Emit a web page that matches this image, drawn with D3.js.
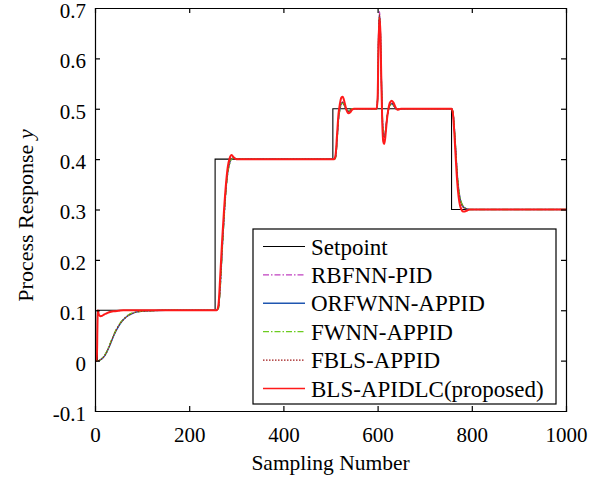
<!DOCTYPE html>
<html>
<head>
<meta charset="utf-8">
<script src="https://cdn.jsdelivr.net/npm/d3@7"></script>
<style>
  html, body { margin: 0; padding: 0; background: #fff; }
  svg { display: block; }
  text { font-family: "Liberation Serif", "Times New Roman", serif; fill: #000; }
</style>
</head>
<body>
<svg id="chart" width="605" height="484"></svg>
<script>
// ---------------- data ----------------
const xTicks = [0, 200, 400, 600, 800, 1000];
const yTicks = [-0.1, 0, 0.1, 0.2, 0.3, 0.4, 0.5, 0.6, 0.7];
const yTickLabels = ["-0.1", "0", "0.1", "0.2", "0.3", "0.4", "0.5", "0.6", "0.7"];

const setpointX = [0, 5, 255, 505, 757, 1000];
const setpointY = [0, 0.1, 0.4, 0.5, 0.3, 0.3];

const sampleX = [
  0, 4, 5, 6, 8, 10, 12, 15, 20, 25, 30, 40, 50, 60, 70, 80, 90, 100, 120, 150, 200, 255,
  258, 262, 266, 270, 274, 278, 282, 286, 290, 295, 300, 320, 400, 505,
  508, 511, 514, 517, 520, 523, 526, 530, 534, 538, 542, 546, 550, 560, 580, 598,
  600, 602, 604, 606, 608, 610, 612, 614, 616, 618, 620, 623, 626, 630, 634, 638, 642, 646, 650, 660, 700, 757,
  760, 763, 766, 769, 772, 775, 778, 781, 785, 790, 795, 800, 850, 1000
];

const rbfnnPid = [
  0, 0, 0, 0, 0, 0.001, 0.002, 0.004, 0.010, 0.018, 0.028, 0.051, 0.069, 0.082, 0.090, 0.094, 0.097, 0.098, 0.099, 0.1, 0.1, 0.1,
  0.1, 0.104, 0.148, 0.218, 0.283, 0.338, 0.374, 0.392, 0.401, 0.403, 0.401, 0.4, 0.4, 0.4,
  0.4, 0.404, 0.438, 0.478, 0.499, 0.510, 0.513, 0.507, 0.499, 0.495, 0.497, 0.5, 0.5, 0.5, 0.5, 0.5,
  0.52, 0.645, 0.693, 0.655, 0.565, 0.488, 0.452, 0.446, 0.451, 0.466, 0.483, 0.498, 0.507, 0.511, 0.507, 0.501, 0.499, 0.5, 0.5, 0.5, 0.5, 0.5,
  0.493, 0.462, 0.417, 0.372, 0.341, 0.323, 0.313, 0.307, 0.303, 0.301, 0.3, 0.3, 0.3, 0.3
];

const orfwnnAppid = [
  0, 0, 0, 0, 0, 0.001, 0.002, 0.004, 0.009, 0.017, 0.027, 0.050, 0.068, 0.081, 0.089, 0.094, 0.097, 0.098, 0.099, 0.1, 0.1, 0.1,
  0.1, 0.105, 0.150, 0.220, 0.285, 0.340, 0.375, 0.393, 0.401, 0.402, 0.401, 0.4, 0.4, 0.4,
  0.4, 0.405, 0.440, 0.480, 0.500, 0.510, 0.512, 0.506, 0.498, 0.495, 0.497, 0.5, 0.5, 0.5, 0.5, 0.5,
  0.52, 0.64, 0.685, 0.65, 0.56, 0.485, 0.45, 0.445, 0.45, 0.465, 0.482, 0.498, 0.507, 0.51, 0.507, 0.501, 0.499, 0.5, 0.5, 0.5, 0.5, 0.5,
  0.492, 0.46, 0.415, 0.37, 0.34, 0.322, 0.312, 0.306, 0.303, 0.301, 0.3, 0.3, 0.3, 0.3
];

const fwnnAppid = [
  0, 0, 0, 0, 0, 0.001, 0.002, 0.005, 0.010, 0.018, 0.029, 0.052, 0.070, 0.082, 0.090, 0.095, 0.097, 0.098, 0.099, 0.1, 0.1, 0.1,
  0.1, 0.103, 0.145, 0.215, 0.280, 0.336, 0.372, 0.391, 0.400, 0.402, 0.401, 0.4, 0.4, 0.4,
  0.4, 0.403, 0.436, 0.476, 0.498, 0.508, 0.511, 0.506, 0.499, 0.496, 0.498, 0.5, 0.5, 0.5, 0.5, 0.5,
  0.52, 0.635, 0.682, 0.648, 0.562, 0.49, 0.455, 0.448, 0.452, 0.466, 0.483, 0.498, 0.506, 0.509, 0.506, 0.501, 0.499, 0.5, 0.5, 0.5, 0.5, 0.5,
  0.494, 0.463, 0.419, 0.374, 0.343, 0.324, 0.314, 0.308, 0.304, 0.301, 0.3, 0.3, 0.3, 0.3
];

const fblsAppid = [
  0, 0, 0, 0, 0, 0.001, 0.002, 0.004, 0.009, 0.017, 0.028, 0.051, 0.069, 0.081, 0.089, 0.094, 0.097, 0.098, 0.099, 0.1, 0.1, 0.1,
  0.1, 0.105, 0.152, 0.222, 0.287, 0.342, 0.377, 0.395, 0.402, 0.402, 0.401, 0.4, 0.4, 0.4,
  0.4, 0.406, 0.442, 0.482, 0.502, 0.511, 0.513, 0.506, 0.498, 0.494, 0.497, 0.5, 0.5, 0.5, 0.5, 0.5,
  0.52, 0.64, 0.688, 0.652, 0.56, 0.483, 0.448, 0.442, 0.448, 0.464, 0.481, 0.498, 0.508, 0.511, 0.507, 0.501, 0.499, 0.5, 0.5, 0.5, 0.5, 0.5,
  0.491, 0.458, 0.413, 0.368, 0.338, 0.32, 0.311, 0.305, 0.302, 0.301, 0.3, 0.3, 0.3, 0.3
];

const blsApidlc = [
  0, 0, 0.06, 0.1, 0.092, 0.089, 0.088, 0.089, 0.092, 0.094, 0.096, 0.098, 0.099, 0.1, 0.1, 0.1, 0.1, 0.1, 0.1, 0.1, 0.1, 0.1,
  0.1, 0.11, 0.17, 0.24, 0.30, 0.35, 0.385, 0.402, 0.408, 0.403, 0.4, 0.4, 0.4, 0.4,
  0.4, 0.41, 0.45, 0.49, 0.51, 0.522, 0.524, 0.512, 0.497, 0.491, 0.493, 0.498, 0.5, 0.5, 0.5, 0.5,
  0.52, 0.63, 0.68, 0.65, 0.55, 0.47, 0.435, 0.43, 0.44, 0.46, 0.48, 0.5, 0.512, 0.516, 0.512, 0.503, 0.498, 0.499, 0.5, 0.5, 0.5, 0.5,
  0.49, 0.45, 0.4, 0.355, 0.325, 0.308, 0.3, 0.296, 0.296, 0.298, 0.3, 0.3, 0.3, 0.3
];

const seriesNames = ["Setpoint", "RBFNN-PID", "ORFWNN-APPID", "FWNN-APPID", "FBLS-APPID", "BLS-APIDLC(proposed)"];

// ---------------- drawing ----------------
const svg = d3.select("#chart");
const mLeft = 95, mRight = 566, mTop = 8, mBottom = 411;

const x = d3.scaleLinear().domain([0, 1000]).range([mLeft, mRight]);
const y = d3.scaleLinear().domain([-0.1, 0.7]).range([mBottom, mTop]);

const styles = [
  { color: "#000000", width: 1.1, dash: null },
  { color: "#c040c0", width: 1.2, dash: "6,2,1.5,2" },
  { color: "#1f56b0", width: 1.4, dash: null },
  { color: "#6ccc20", width: 1.3, dash: "6,2,1.5,2" },
  { color: "#a01818", width: 1.2, dash: "1.5,1.5" },
  { color: "#ff1a1a", width: 2, dash: null }
];

const respSeries = [rbfnnPid, orfwnnAppid, fwnnAppid, fblsAppid, blsApidlc];

const plot = svg.append("g");

// setpoint
const spLine = d3.line()
  .x((d, i) => x(setpointX[i]))
  .y(d => y(d))
  .curve(d3.curveStepAfter);
plot.append("path")
  .attr("d", spLine(setpointY))
  .attr("fill", "none")
  .attr("stroke", styles[0].color)
  .attr("stroke-width", styles[0].width);

const respLine = d3.line()
  .x((d, i) => x(sampleX[i]))
  .y(d => y(d))
  .curve(d3.curveMonotoneX);

respSeries.forEach((s, k) => {
  const st = styles[k + 1];
  plot.append("path")
    .attr("d", respLine(s))
    .attr("fill", "none")
    .attr("stroke", st.color)
    .attr("stroke-width", st.width)
    .attr("stroke-dasharray", st.dash)
    .attr("stroke-linejoin", "round");
});

// axes
const fontSize = 21;
const axB = svg.append("g").attr("transform", `translate(0,${mBottom})`)
  .call(d3.axisBottom(x).tickValues(xTicks).tickSize(-5).tickPadding(16).tickFormat(d3.format("d")));
const axT = svg.append("g").attr("transform", `translate(0,${mTop})`)
  .call(d3.axisTop(x).tickValues(xTicks).tickSize(-5).tickFormat(""));
const axL = svg.append("g").attr("transform", `translate(${mLeft},0)`)
  .call(d3.axisLeft(y).tickValues(yTicks).tickSize(-5).tickPadding(9).tickFormat((d, i) => yTickLabels[i]));
const axR = svg.append("g").attr("transform", `translate(${mRight},0)`)
  .call(d3.axisRight(y).tickValues(yTicks).tickSize(-5).tickFormat(""));

[axB, axT, axL, axR].forEach(g => {
  g.select(".domain").attr("stroke", "#000").attr("stroke-width", 1.2);
  g.selectAll(".tick line").attr("stroke", "#000").attr("stroke-width", 1.2);
  g.selectAll(".tick text")
    .attr("font-family", "'Liberation Serif', 'Times New Roman', serif")
    .attr("font-size", fontSize)
    .attr("fill", "#000");
});
axL.selectAll(".tick text").attr("dy", "0.45em");
// hide end ticks sitting on the frame
[axB, axT].forEach(g => g.selectAll(".tick line").filter(d => d === 0 || d === 1000).remove());
[axL, axR].forEach(g => g.selectAll(".tick line").filter(d => d === -0.1 || d === 0.7).remove());

// axis titles
svg.append("text")
  .attr("x", (mLeft + mRight) / 2)
  .attr("y", 470)
  .attr("text-anchor", "middle")
  .attr("font-size", 21.5)
  .text("Sampling Number");

const yl = svg.append("text")
  .attr("transform", `translate(33,${(mTop + mBottom) / 2 + 6}) rotate(-90)`)
  .attr("text-anchor", "middle")
  .attr("font-size", 22);
yl.append("tspan").text("Process Response ");
yl.append("tspan").attr("font-style", "italic").text("y");

// legend
const lg = svg.append("g");
const lgX = 253, lgY = 229, lgW = 303, lgH = 175;
lg.append("rect")
  .attr("x", lgX).attr("y", lgY).attr("width", lgW).attr("height", lgH)
  .attr("fill", "#fff").attr("stroke", "#000").attr("stroke-width", 1.2);

const rowY = d3.scaleLinear().domain([0, 5]).range([246.5, 388.5]);
seriesNames.forEach((name, i) => {
  const st = styles[i];
  lg.append("line")
    .attr("x1", 263).attr("x2", 305)
    .attr("y1", rowY(i)).attr("y2", rowY(i))
    .attr("stroke", st.color)
    .attr("stroke-width", Math.min(st.width, 1.4))
    .attr("stroke-dasharray", st.dash);
  lg.append("text")
    .attr("x", 311)
    .attr("y", rowY(i))
    .attr("dy", "0.35em")
    .attr("font-size", 23)
    .text(name);
});
</script>
</body>
</html>
